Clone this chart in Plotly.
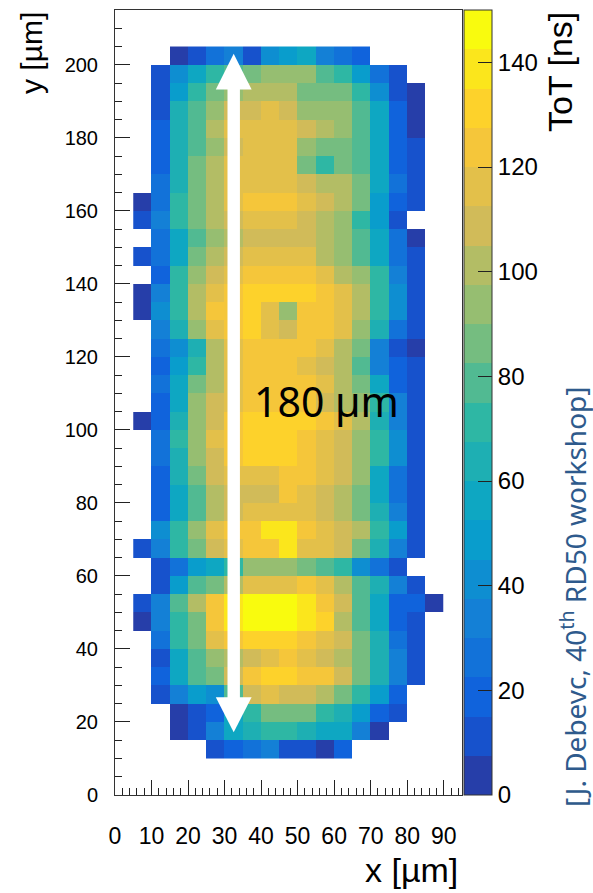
import plotly.graph_objects as go

# ---------------- data ----------------
# bin centres (5 um bins)
x_centers = [7.5, 12.5, 17.5, 22.5, 27.5, 32.5, 37.5, 42.5, 47.5, 52.5,
             57.5, 62.5, 67.5, 72.5, 77.5, 82.5, 87.5]
y_centers = [202.5 - 5 * i for i in range(39)]  # rows from y=200..205 down to 10..15

N = None
# ToT [ns] per pixel, rows top (y=200-205) to bottom (y=10-15), columns x=5..90
tot_ns = [
    [N, N, 4, 11, 26, 34, 11, 41, 49, 56, 34, 26, 19, N, N, N, N],          # 200
    [N, 11, 41, 56, 71, 79, 86, 94, 94, 94, 79, 71, 49, 26, 11, N, N],      # 195
    [N, 11, 49, 71, 86, 94, 101, 101, 101, 86, 86, 86, 71, 41, 11, 4, N],   # 190
    [N, 11, 64, 79, 94, 109, 109, 116, 109, 94, 94, 94, 79, 56, 19, 4, N],  # 185
    [N, 19, 64, 79, 101, 116, 116, 116, 116, 109, 101, 94, 79, 56, 19, 4, N],  # 180
    [N, 19, 64, 79, 94, 109, 116, 116, 116, 94, 86, 86, 79, 56, 19, 11, N],   # 175
    [N, 19, 64, 86, 101, 116, 116, 116, 116, 86, 71, 86, 79, 56, 19, 11, N],  # 170
    [N, 26, 64, 86, 101, 116, 116, 116, 116, 109, 101, 101, 86, 56, 26, 11, N],  # 165
    [4, 26, 71, 86, 101, 116, 124, 124, 124, 116, 109, 101, 86, 49, 19, 11, N],  # 160
    [11, 34, 71, 86, 101, 109, 116, 116, 116, 109, 101, 94, 71, 49, 11, N, N],   # 155
    [N, 26, 56, 79, 94, 101, 109, 109, 109, 109, 101, 94, 79, 56, 26, 4, N],     # 150
    [11, 26, 56, 86, 101, 109, 116, 116, 116, 116, 101, 94, 79, 56, 26, 11, N],  # 145
    [N, 19, 71, 94, 109, 116, 124, 124, 124, 124, 116, 101, 94, 71, 34, 11, N],  # 140
    [4, 34, 71, 101, 116, 124, 131, 131, 131, 131, 124, 116, 101, 71, 41, 11, N],  # 135
    [4, 41, 71, 101, 124, 124, 131, 116, 94, 124, 124, 116, 101, 71, 41, 11, N],   # 130
    [N, 34, 64, 94, 116, 124, 131, 116, 109, 124, 124, 116, 94, 64, 26, 11, N],    # 125
    [N, 26, 41, 64, 101, 116, 124, 124, 124, 124, 116, 101, 86, 34, 11, 4, N],     # 120
    [N, 19, 49, 71, 101, 116, 124, 124, 124, 116, 109, 101, 79, 34, 19, 11, N],    # 115
    [N, 26, 56, 86, 101, 116, 124, 124, 124, 124, 116, 101, 86, 56, 19, 11, N],    # 110
    [N, 19, 56, 94, 109, 116, 124, 124, 124, 124, 109, 101, 94, 71, 34, 11, N],    # 105
    [4, 19, 64, 94, 109, 124, 131, 131, 131, 131, 124, 116, 101, 64, 34, 11, N],   # 100
    [N, 26, 71, 94, 116, 124, 131, 131, 131, 124, 116, 109, 94, 71, 41, 11, N],    # 95
    [N, 26, 64, 94, 109, 124, 131, 131, 131, 124, 116, 109, 94, 71, 41, 11, N],    # 90
    [N, 19, 64, 86, 109, 116, 116, 116, 124, 124, 116, 109, 94, 56, 26, 11, N],    # 85
    [N, 19, 56, 79, 101, 109, 109, 109, 124, 116, 109, 101, 86, 56, 26, 11, N],    # 80
    [N, 19, 56, 79, 101, 109, 116, 116, 116, 116, 109, 101, 86, 64, 34, 11, N],    # 75
    [N, 41, 71, 94, 116, 124, 124, 139, 139, 124, 116, 109, 101, 71, 49, 11, N],   # 70
    [11, 34, 71, 86, 109, 116, 124, 124, 139, 116, 116, 109, 86, 64, 34, 11, N],   # 65
    [N, 11, 26, 49, 56, 71, 94, 94, 94, 86, 79, 71, 41, 26, 11, N, N],             # 60
    [N, 11, 49, 79, 86, 101, 116, 116, 116, 124, 116, 101, 79, 64, 34, 11, N],     # 55
    [11, 34, 79, 101, 124, 139, 146, 146, 146, 139, 124, 109, 79, 56, 19, 19, 4],  # 50
    [4, 34, 71, 86, 124, 139, 146, 146, 146, 139, 131, 101, 79, 56, 19, 11, N],    # 45
    [N, 26, 71, 86, 116, 124, 131, 131, 131, 124, 116, 109, 86, 64, 26, 11, N],    # 40
    [N, 11, 56, 79, 94, 101, 109, 116, 124, 116, 109, 101, 86, 64, 34, 11, N],     # 35
    [N, 19, 56, 79, 86, 109, 124, 131, 131, 124, 124, 109, 86, 64, 34, 11, N],     # 30
    [N, 11, 34, 49, 41, 79, 109, 116, 109, 109, 101, 86, 71, 49, 19, N, N],        # 25
    [N, N, 4, 11, 19, 56, 71, 86, 86, 86, 71, 64, 49, 19, 11, N, N],               # 20
    [N, N, 4, 11, 34, 56, 64, 71, 71, 64, 56, 56, 34, 4, N, N, N],                 # 15
    [N, N, N, N, 11, 19, 26, 34, 11, 11, 4, 19, N, N, N, N, N],                    # 10
]

cbar_ticks = [0, 20, 40, 60, 80, 100, 120, 140]

# ROOT kBird palette, 20 contour bands between 0 and 150 ns
band_colors = ["#263EA9", "#1752CC", "#1063DC", "#1272D9", "#1480D6",
               "#0E8ED1", "#099DCC", "#0EA7C2", "#1EAFB3", "#2EB7A4",
               "#51BA92", "#75BD80", "#96BE71", "#B3BD65", "#D1BB59",
               "#E3C04A", "#F5C63A", "#FDD22B", "#FBE61C", "#F9FB0E"]

colorscale = []
nb = len(band_colors)
for i, c in enumerate(band_colors):
    colorscale.append([i / nb, c])
    colorscale.append([(i + 1) / nb, c])

# ---------------- figure ----------------
W, H = 593, 893
L, R, T, B = 115, 131, 10, 98
pw, ph = W - L - R, H - T - B


def px(xp):
    return (xp - L) / pw


def py(yp):
    return (H - B - yp) / ph


fig = go.Figure()
fig.add_trace(go.Heatmap(
    x=x_centers, y=y_centers, z=tot_ns,
    colorscale=colorscale, zmin=0, zmax=150, zsmooth=False,
    hoverongaps=False,
    colorbar=dict(
        thickness=28, thicknessmode="pixels",
        len=1, lenmode="fraction",
        x=px(464), xanchor="left", xpad=0,
        y=0, yanchor="bottom", ypad=0,
        outlinewidth=1, outlinecolor="#333",
        tickmode="array", tickvals=cbar_ticks,
        ticks="inside", ticklen=14, tickcolor="#222", tickwidth=1,
        tickfont=dict(family="Liberation Sans", size=24, color="black"),
    ),
))

axis_common = dict(
    showgrid=False, zeroline=False, showline=True, linecolor="#333",
    linewidth=1, mirror=True, ticks="inside", ticklen=15, tickwidth=1,
    tickcolor="#222",
)
fig.update_xaxes(range=[0, 95], tick0=0, dtick=10,
                 tickfont=dict(family="Liberation Sans", size=23, color="black"),
                 minor=dict(dtick=2, ticks="inside", ticklen=7, tickcolor="#222", showgrid=False),
                 ticklabelstandoff=20, **axis_common)
fig.update_yaxes(range=[0, 215], tick0=0, dtick=20,
                 tickfont=dict(family="Liberation Sans", size=20, color="black"),
                 minor=dict(dtick=5, ticks="inside", ticklen=7, tickcolor="#222", showgrid=False),
                 ticklabelstandoff=12, **axis_common)

# white double arrow
ax_c, shaft_hw, head_hw = 32.5, 1.7, 4.9
y_lo_tip, y_lo_base, y_hi_base, y_hi_tip = 17.2, 26.8, 193.2, 203.0
white = dict(fillcolor="white", line=dict(width=0), layer="above")
fig.add_shape(type="rect", x0=ax_c - shaft_hw, x1=ax_c + shaft_hw,
              y0=y_lo_base - 0.5, y1=y_hi_base + 0.5, **white)
fig.add_shape(type="path",
              path=f"M {ax_c-head_hw},{y_hi_base} L {ax_c+head_hw},{y_hi_base} L {ax_c},{y_hi_tip} Z",
              **white)
fig.add_shape(type="path",
              path=f"M {ax_c-head_hw},{y_lo_base} L {ax_c+head_hw},{y_lo_base} L {ax_c},{y_lo_tip} Z",
              **white)

fig.add_annotation(x=58, y=107.8, xref="x", yref="y", text="180 µm",
                   showarrow=False, font=dict(family="Noto Sans", size=41, color="black"))

fig.add_annotation(x=px(560), y=1, xref="paper", yref="paper", text="ToT [ns]",
                   textangle=-90, xanchor="center", yanchor="top", showarrow=False,
                   font=dict(family="Liberation Sans", size=34, color="black"))

fig.add_annotation(x=px(573), y=py(597), xref="paper", yref="paper",
                   text="[J. Debevc, 40<sup>th</sup> RD50 workshop]",
                   textangle=-90, xanchor="center", yanchor="middle", showarrow=False,
                   font=dict(family="Noto Sans", size=28, color="#2E5A8C"))

fig.add_annotation(x=px(31), y=1, xref="paper", yref="paper", text="y [µm]",
                   textangle=-90, xanchor="center", yanchor="top", showarrow=False,
                   font=dict(family="Liberation Sans", size=30, color="black"))

fig.add_annotation(x=px(460), y=py(870), xref="paper", yref="paper", text="x [µm]",
                   xanchor="right", yanchor="middle", showarrow=False,
                   font=dict(family="Liberation Sans", size=34, color="black"))

fig.update_layout(width=W, height=H, margin=dict(l=L, r=R, t=T, b=B),
                  plot_bgcolor="white", paper_bgcolor="white", showlegend=False)

fig.write_html("out.html")
